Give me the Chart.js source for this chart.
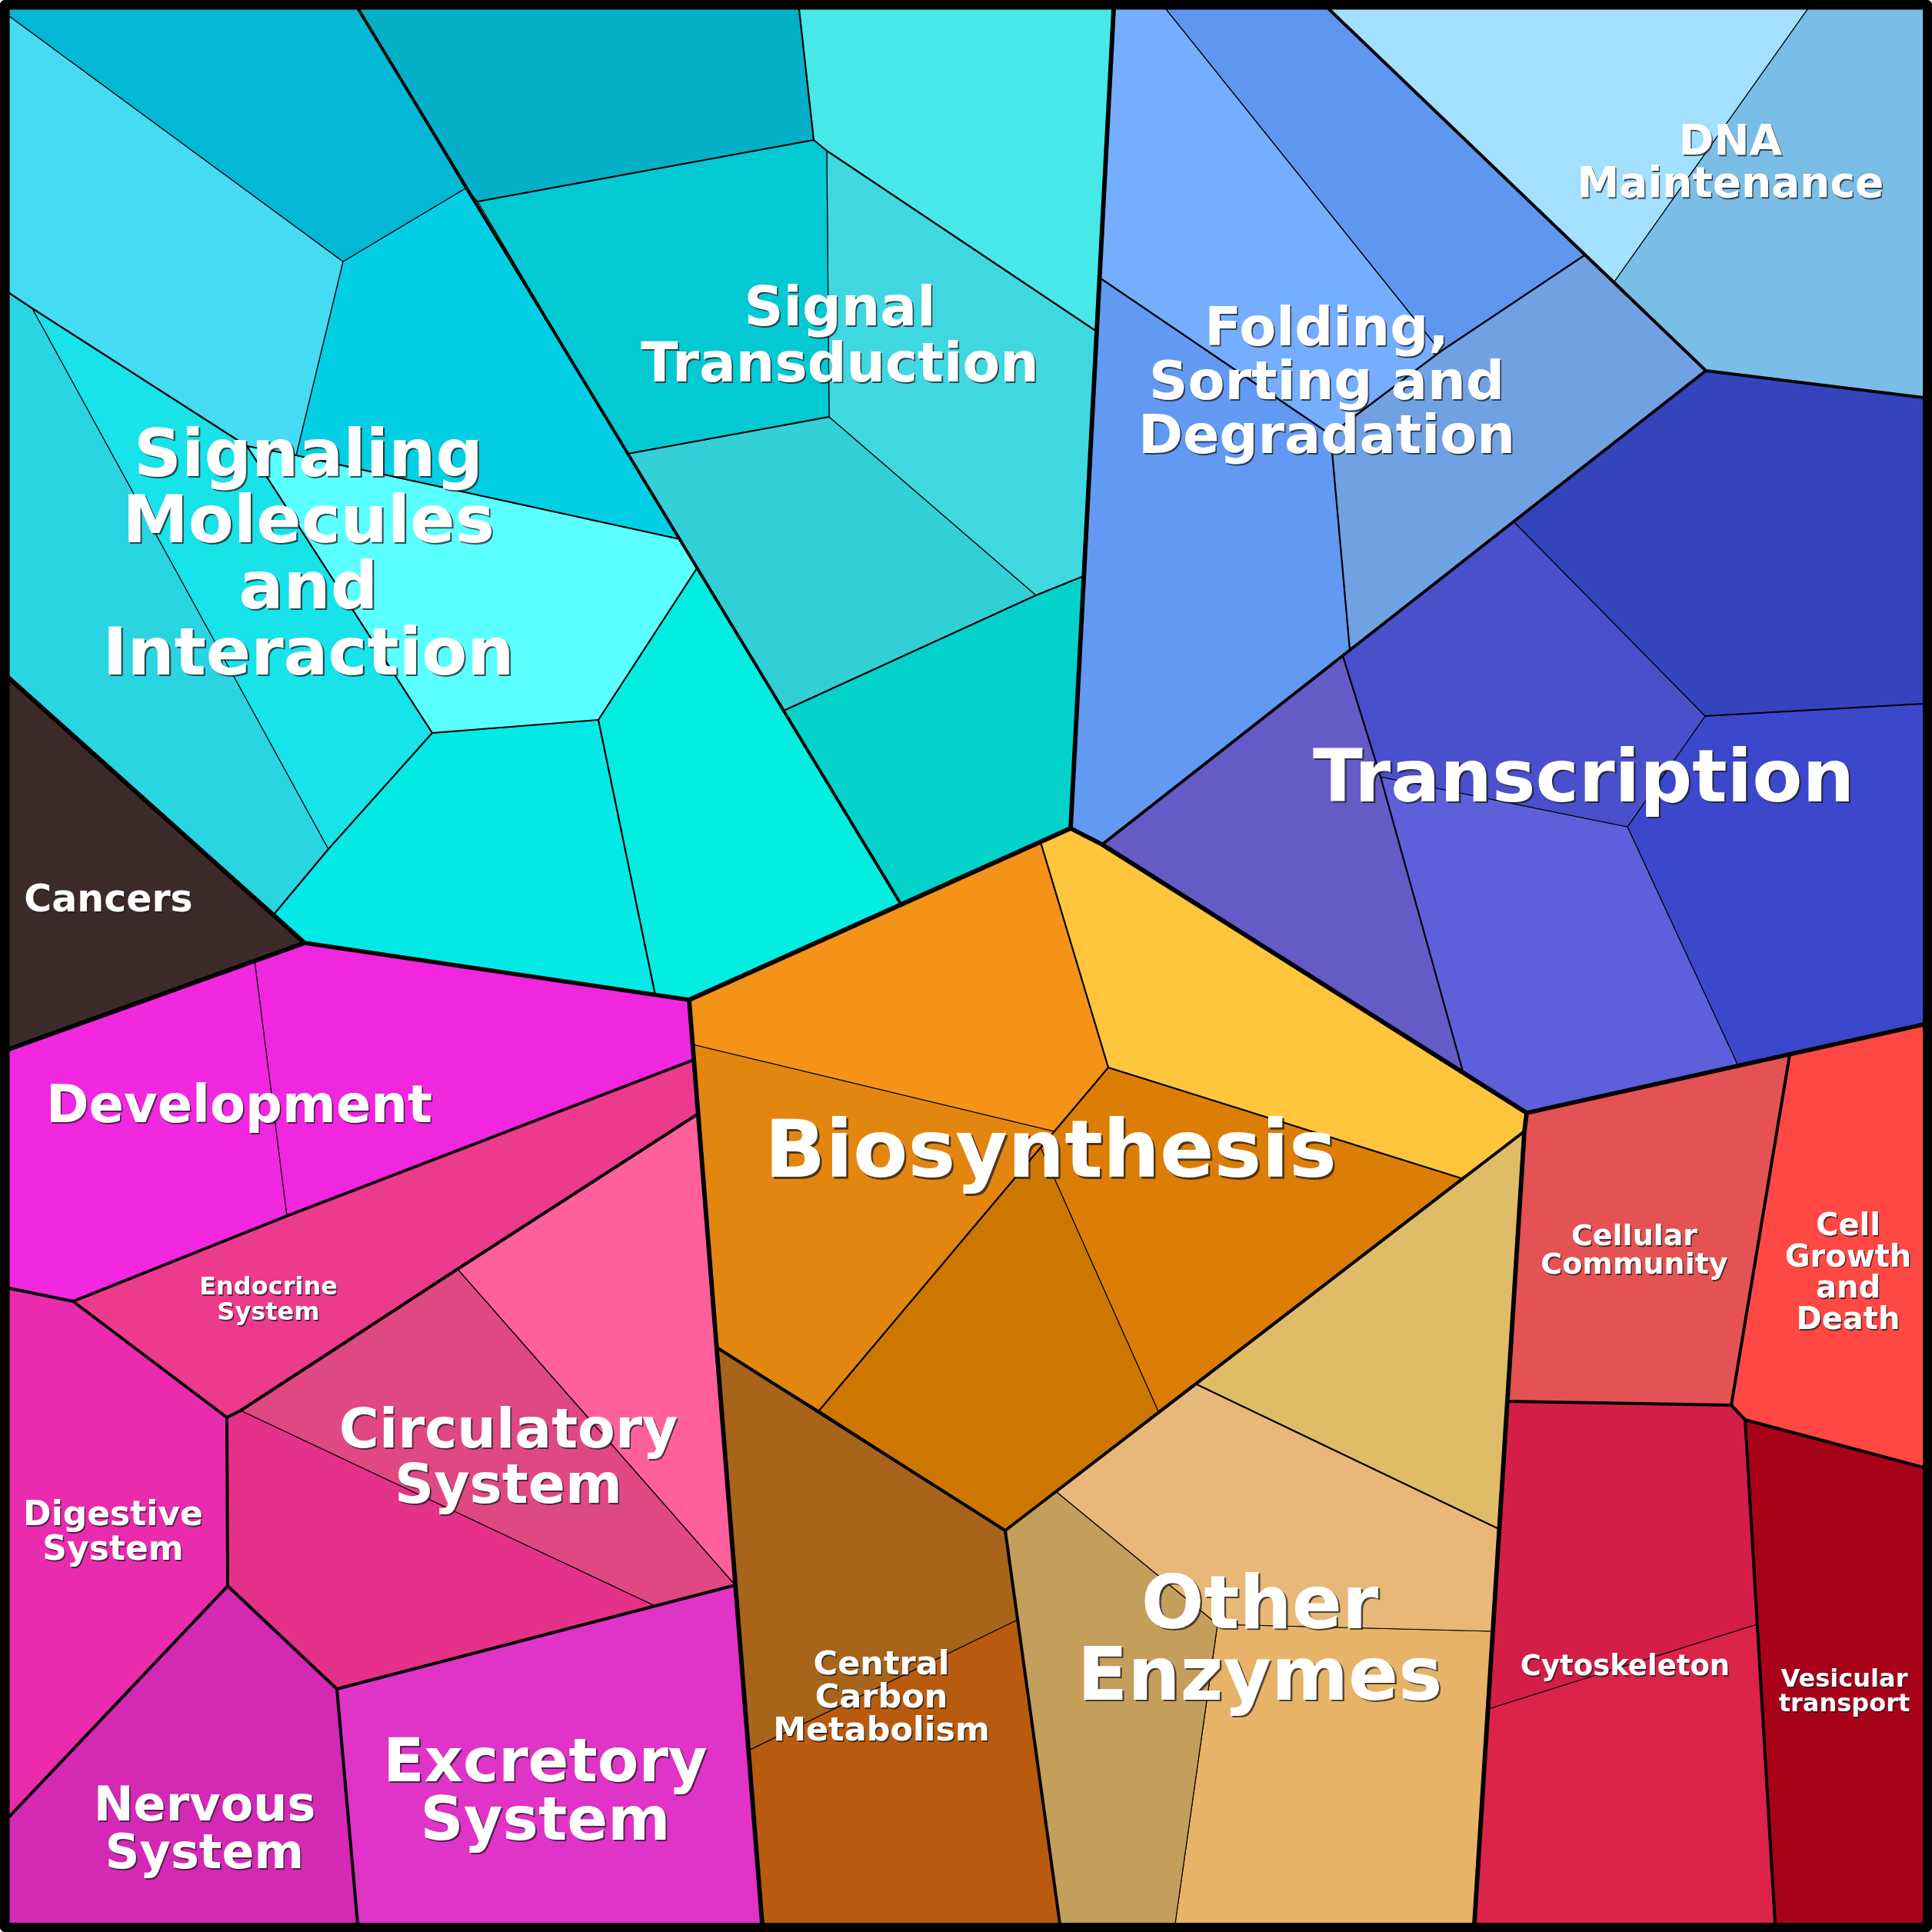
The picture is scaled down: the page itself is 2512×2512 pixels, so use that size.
<!DOCTYPE html>
<html>
<head>
<meta charset="utf-8">
<title>Voronoi treemap</title>
<script src="https://cdn.jsdelivr.net/npm/chart.js@4/dist/chart.umd.min.js"></script>
<style>
  html, body { margin: 0; padding: 0; background: #fff; }
  canvas { display: block; }
</style>
</head>
<body>
<canvas id="treemap" width="2512" height="2512"></canvas>
<script>
// categories, one per labelled region
const categories = [
  "Signaling Molecules and Interaction", "Signal Transduction",
  "Folding, Sorting and Degradation", "DNA Maintenance", "Transcription",
  "Biosynthesis", "Other Enzymes", "Central Carbon Metabolism",
  "Cellular Community", "Cell Growth and Death", "Cytoskeleton", "Vesicular transport",
  "Cancers", "Development", "Endocrine System", "Circulatory System",
  "Digestive System", "Nervous System", "Excretory System"
];

// cell outlines (x, y in a 2512 x 2512 space)
const signalingMoleculesCells = [
  [[12,12],[466,12],[605,245],[446,340],[12,21]],
  [[12,21],[446,340],[385,592],[321,580],[42,401],[12,381]],
  [[446,340],[605,245],[884,701],[385,592]],
  [[42,401],[321,580],[562,953],[427,1104]],
  [[12,381],[42,401],[427,1104],[356,1189],[12,882]],
  [[321,580],[385,592],[884,701],[906,739],[778,936],[562,953]],
  [[356,1189],[427,1104],[562,953],[778,936],[852,1294],[396,1226]],
  [[778,936],[906,739],[1171,1175],[896,1300],[852,1294]]
];
const signalTransductionCells = [
  [[466,12],[1039,12],[1058,182],[621,262],[605,245]],
  [[1039,12],[1448,12],[1426,431],[1075,196],[1058,182]],
  [[621,262],[1058,182],[1075,196],[1078,542],[816,590]],
  [[1075,196],[1426,431],[1409,749],[1347,774],[1078,542]],
  [[816,590],[1078,542],[1347,774],[1019,924]],
  [[1019,924],[1347,774],[1409,749],[1392,1077],[1171,1175]]
];
const foldingCells = [
  [[1448,12],[1516,12],[1873,457],[1730,565],[1431,362]],
  [[1516,12],[1728,12],[2060,332],[1873,457]],
  [[2060,332],[2218,482],[1755,845],[1730,565],[1873,457]],
  [[1431,362],[1730,565],[1755,845],[1433,1098],[1392,1077]]
];
const dnaMaintenanceCells = [
  [[1728,12],[2350,12],[2099,366]],
  [[2350,12],[2501,12],[2501,517],[2218,482],[2099,366]]
];
const transcriptionCells = [
  [[2218,482],[2501,517],[2501,915],[2217,931],[1968,678]],
  [[1746,853],[1968,678],[2217,931],[2116,1075],[1795,1010]],
  [[1433,1098],[1746,853],[1795,1010],[1902,1393]],
  [[1795,1010],[2116,1075],[2260,1386],[1985,1447],[1902,1393]],
  [[2217,931],[2501,915],[2501,1332],[2260,1386],[2116,1075]]
];
const biosynthesisCells = [
  [[896,1300],[1353,1095],[1441,1388],[1371,1471],[901,1358]],
  [[1353,1095],[1392,1077],[1433,1098],[1985,1447],[1982,1471],[1900,1532],[1441,1388]],
  [[901,1358],[1371,1471],[1353,1492],[1065,1834],[932,1752]],
  [[1353,1492],[1506,1835],[1307,1990],[1065,1834]],
  [[1441,1388],[1900,1532],[1506,1835],[1353,1492],[1371,1471]]
];
const otherEnzymesCells = [
  [[1556,1800],[1982,1471],[1949,1988]],
  [[1374,1940],[1556,1800],[1949,1988],[1941,2121],[1583,2112]],
  [[1307,1990],[1374,1940],[1583,2112],[1528,2501],[1378,2501]],
  [[1583,2112],[1941,2121],[1917,2501],[1528,2501]]
];
const centralCarbonCells = [
  [[932,1752],[1307,1990],[1323,2106],[973,2276]],
  [[973,2276],[1323,2106],[1378,2501],[991,2501]]
];
const cellularCommunityCells = [
  [[1985,1447],[2327,1371],[2251,1827],[1960,1822],[1982,1471]]
];
const cellGrowthCells = [
  [[2327,1371],[2501,1332],[2501,1908],[2269,1846],[2251,1827]]
];
const cytoskeletonCells = [
  [[1960,1822],[2251,1827],[2269,1846],[2284,2112],[1935,2222]],
  [[1935,2222],[2284,2112],[2308,2501],[1917,2501]]
];
const vesicularCells = [
  [[2269,1846],[2501,1908],[2501,2501],[2308,2501]]
];
const cancersCells = [
  [[12,882],[396,1226],[12,1364]]
];
const developmentCells = [
  [[12,1364],[331,1249],[373,1581],[95,1692],[12,1675]],
  [[331,1249],[396,1226],[896,1300],[902,1378],[373,1581]]
];
const endocrineCells = [
  [[95,1692],[373,1581],[902,1378],[908,1448],[595,1650],[313,1834],[295,1843]]
];
const circulatoryCells = [
  [[595,1650],[908,1448],[956,2061]],
  [[313,1834],[595,1650],[956,2061],[852,2088]],
  [[295,1843],[313,1834],[852,2088],[438,2196],[296,2062]]
];
const digestiveCells = [
  [[12,1675],[95,1692],[295,1843],[296,2062],[12,2362]]
];
const nervousCells = [
  [[12,2362],[296,2062],[438,2196],[465,2501],[12,2501]]
];
const excretoryCells = [
  [[438,2196],[852,2088],[956,2061],[991,2501],[465,2501]]
];

const cellGroups = [
  signalingMoleculesCells, signalTransductionCells, foldingCells, dnaMaintenanceCells,
  transcriptionCells, biosynthesisCells, otherEnzymesCells, centralCarbonCells,
  cellularCommunityCells, cellGrowthCells, cytoskeletonCells, vesicularCells,
  cancersCells, developmentCells, endocrineCells, circulatoryCells,
  digestiveCells, nervousCells, excretoryCells
];

// borders between regions, heaviest first
const edgesTop = [
  [[12,882],[396,1226],[896,1300],[1392,1077],[1448,12]],
  [[12,1364],[396,1226]],
  [[1392,1077],[1433,1098],[1985,1447],[2501,1332]],
  [[896,1300],[991,2501]],
  [[1985,1447],[1982,1471],[1917,2501]]
];
const edgesCategory = [
  [[466,12],[1171,1175]],
  [[1728,12],[2218,482],[2501,517]],
  [[2218,482],[1433,1098]],
  [[1307,1990],[1982,1471]],
  [[932,1752],[1307,1990],[1378,2501]],
  [[1960,1822],[2251,1827],[2327,1371]],
  [[2251,1827],[2269,1846],[2501,1908]],
  [[2269,1846],[2308,2501]],
  [[12,1675],[95,1692],[373,1581],[902,1378]],
  [[908,1448],[595,1650],[313,1834],[295,1843],[95,1692]],
  [[295,1843],[296,2062],[12,2362]],
  [[296,2062],[438,2196],[465,2501]],
  [[438,2196],[852,2088],[956,2061]]
];
const edgesSub = [
  [[12,381],[42,401],[321,580],[385,592],[884,701]],
  [[321,580],[562,953],[778,936],[906,739]],
  [[562,953],[427,1104],[356,1189]],
  [[778,936],[852,1294]],
  [[1039,12],[1058,182],[621,262]],
  [[1058,182],[1075,196],[1426,431]],
  [[816,590],[1078,542]],
  [[1019,924],[1347,774],[1409,749]],
  [[1431,362],[1730,565]],
  [[2060,332],[1873,457],[1730,565],[1755,845]],
  [[1746,853],[1795,1010],[1902,1393]],
  [[2217,931],[2501,915]],
  [[1353,1095],[1441,1388],[1900,1532]],
  [[1441,1388],[1371,1471],[1353,1492],[1065,1834]],
  [[1556,1800],[1949,1988]]
];

// label text per category
const labelText = [
  ["Signaling", "Molecules", "and", "Interaction"], ["Signal", "Transduction"],
  ["Folding,", "Sorting and", "Degradation"], ["DNA", "Maintenance"], ["Transcription"],
  ["Biosynthesis"], ["Other", "Enzymes"], ["Central", "Carbon", "Metabolism"],
  ["Cellular", "Community"], ["Cell", "Growth", "and", "Death"], ["Cytoskeleton"],
  ["Vesicular", "transport"], ["Cancers"], ["Development"], ["Endocrine", "System"],
  ["Circulatory", "System"], ["Digestive", "System"], ["Nervous", "System"],
  ["Excretory", "System"]
];

// colours, one list per category
const cellColors = [
  ["#03b8d4", "#44dbf3", "#03cfe4", "#17e3e9", "#2ad5e2", "#5affff", "#03eae6", "#03ede0"],
  ["#03b0c8", "#48e8e8", "#03c9d3", "#40d8e0", "#33cfd7", "#03d2cb"],
  ["#75aeff", "#5e96f0", "#70a2e3", "#6299f2"],
  ["#a2e0fe", "#7abde6"],
  ["#3444bd", "#4a50cb", "#645bc7", "#5d60da", "#3b48cb"],
  ["#f59218", "#fec53d", "#e38610", "#ce7700", "#dc7e05"],
  ["#dfbd68", "#e8b878", "#c49e5b", "#e7b368"],
  ["#a8641a", "#b95b0e"],
  ["#e45253"], ["#ff4844"], ["#d51e47", "#dc2349"], ["#a8021a"],
  ["#3d2b29"], ["#f227e0", "#f027df"], ["#ec3a8d"],
  ["#ff609b", "#e04884", "#e6318a"], ["#ea2bae"], ["#d428b5"], ["#e033c8"]
];

// label placement: centre x, first baseline, font size, line step
const labelPlace = [
  [401, 619, 86, 86], [1092, 423, 71, 73], [1725, 449, 70, 70], [2250, 201, 55, 55],
  [2059, 1042, 95, 95], [1366, 1530, 104, 104], [1638, 2117, 96, 93],
  [1146, 2177, 43, 43], [2125, 1619, 38, 37], [2403, 1606, 40, 40.7],
  [2113, 2178, 37, 37], [2398, 2193, 32, 32], [141, 1185, 49, 49],
  [311, 1459, 67, 67], [349, 1683, 32, 33], [661, 1882, 71, 72],
  [147, 1983, 44, 45], [266, 2367, 62, 62], [709, 2316, 78, 76]
];

function toPoints(poly) {
  return poly.map(([x, y]) => ({ x, y }));
}

function cellDataset(poly, color) {
  const pts = toPoints(poly);
  pts.push(pts[0]);
  return {
    data: pts,
    showLine: true,
    fill: "shape",
    backgroundColor: color,
    borderColor: "#000",
    borderWidth: 1.2,
    pointRadius: 0,
    pointHoverRadius: 0,
    order: 10,
  };
}

function edgeDataset(line, width, order) {
  return {
    data: toPoints(line),
    showLine: true,
    fill: false,
    borderColor: "#000",
    borderWidth: width,
    borderJoinStyle: "round",
    borderCapStyle: "round",
    pointRadius: 0,
    pointHoverRadius: 0,
    order: order,
  };
}

const datasets = [];
cellGroups.forEach((cells, g) => {
  cells.forEach((poly, i) => datasets.push(cellDataset(poly, cellColors[g][i])));
});
edgesSub.forEach((l) => datasets.push(edgeDataset(l, 2.2, 3)));
edgesCategory.forEach((l) => datasets.push(edgeDataset(l, 4, 2)));
edgesTop.forEach((l) => datasets.push(edgeDataset(l, 5.8, 1)));
// outer frame
datasets.push(edgeDataset([[6,6],[2506,6],[2506,2506],[6,2506],[6,6]], 12, 0));

const labelPlugin = {
  id: "regionLabels",
  afterDatasetsDraw(chart) {
    const { ctx, scales } = chart;
    ctx.save();
    ctx.textAlign = "center";
    ctx.textBaseline = "alphabetic";
    labelText.forEach((lines, i) => {
      const [cx, base, size, step] = labelPlace[i];
      ctx.font = `bold ${size}px "DejaVu Sans"`;
      lines.forEach((t, k) => {
        const px = scales.x.getPixelForValue(cx);
        const py = scales.y.getPixelForValue(base + k * step);
        const off = Math.max(1.5, size / 40);
        ctx.fillStyle = "rgba(30,30,30,0.75)";
        ctx.fillText(t, px + off, py + off);
        ctx.fillStyle = "#fff";
        ctx.fillText(t, px, py);
      });
    });
    ctx.restore();
  },
};

new Chart(document.getElementById("treemap"), {
  type: "scatter",
  data: { datasets },
  options: {
    responsive: false,
    animation: false,
    devicePixelRatio: 1,
    events: [],
    layout: { padding: 0 },
    scales: {
      x: { type: "linear", min: 0, max: 2512, display: false },
      y: { type: "linear", min: 0, max: 2512, reverse: true, display: false },
    },
    plugins: {
      legend: { display: false },
      tooltip: { enabled: false },
      title: { display: false },
    },
  },
  plugins: [labelPlugin],
});
</script>
</body>
</html>
